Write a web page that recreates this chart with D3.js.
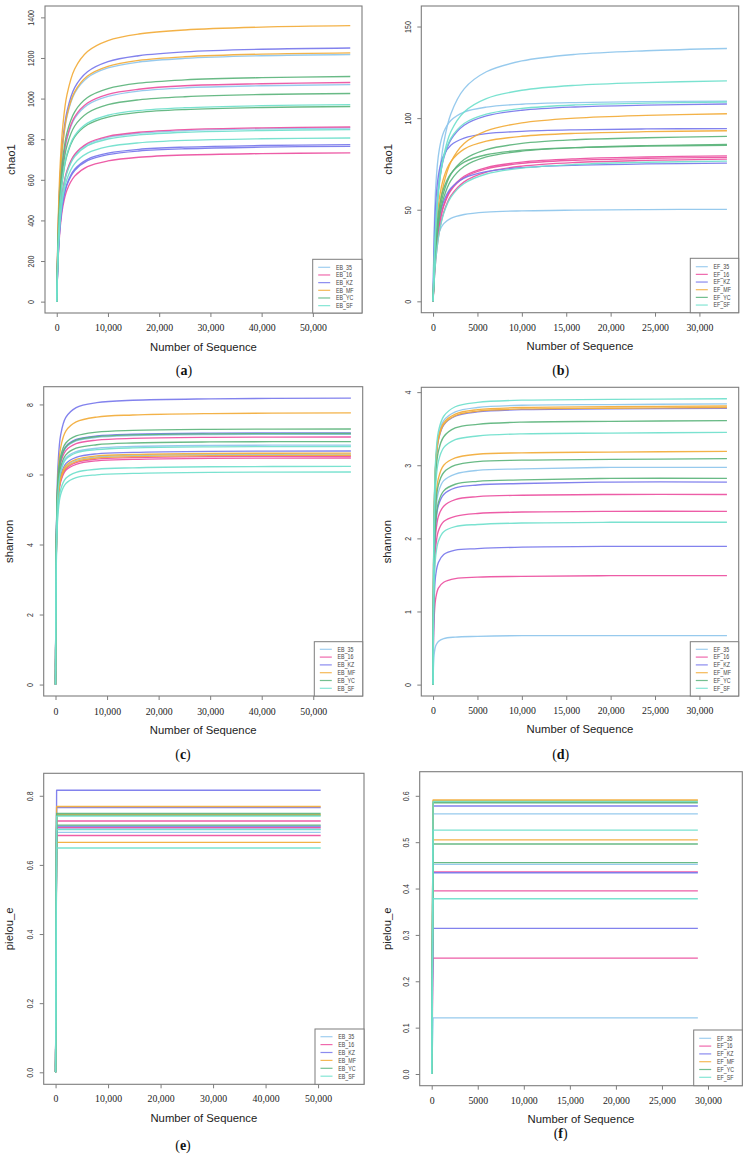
<!DOCTYPE html>
<html><head><meta charset="utf-8">
<script src="https://cdn.jsdelivr.net/npm/d3@7"></script>
<style>
html,body{margin:0;padding:0;background:#fff;}
svg{display:block;}
</style></head>
<body>
<svg id="chart" width="746" height="1155"></svg>
<script>
// ---------------- DATA ----------------
const groupKeys = ["35","16","KZ","MF","YC","SF"];
const legendEB = ["EB_35","EB_16","EB_KZ","EB_MF","EB_YC","EB_SF"];
const legendEF = ["EF_35","EF_16","EF_KZ","EF_MF","EF_YC","EF_SF"];

const xTicksEB = [0,10000,20000,30000,40000,50000];
const xTickLabelsEB = ["0","10,000","20,000","30,000","40,000","50,000"];
const xTicksEF = [0,5000,10000,15000,20000,25000,30000];
const xTickLabelsEF = ["0","5000","10,000","15,000","20,000","25,000","30,000"];

const yTicksChaoEB = [0,200,400,600,800,1000,1200,1400];
const yTicksChaoEF = [0,50,100,150];
const yTicksShanEB = [0,2,4,6,8];
const yTicksShanEF = [0,1,2,3,4];
const yTicksPielouEB = [0,0.2,0.4,0.6,0.8];
const yTickLabelsPielouEB = ["0.0","0.2","0.4","0.6","0.8"];
const yTicksPielouEF = [0,0.1,0.2,0.3,0.4,0.5,0.6];
const yTickLabelsPielouEF = ["0.0","0.1","0.2","0.3","0.4","0.5","0.6"];

// (a) chao1, EB
const depthChaoEB = [0,300,700,1200,2000,3500,6000,10000,16000,25000,40000,57300];
const chaoEBGroup = ["MF","KZ","MF","35","YC","16","35","YC","SF","YC","16","35","SF","SF","KZ","KZ","16"];
const chaoEB = [
 [0,413,688,869,1019,1146,1232,1286,1318,1338,1352,1359],
 [0,379,632,799,937,1054,1132,1182,1211,1230,1243,1249],
 [0,372,620,783,919,1033,1111,1159,1188,1206,1219,1225],
 [0,370,616,778,913,1027,1103,1151,1180,1198,1211,1217],
 [0,337,561,709,832,935,1005,1049,1076,1092,1103,1109],
 [0,328,546,690,809,910,978,1021,1046,1063,1073,1079],
 [0,325,541,683,802,902,969,1011,1037,1053,1063,1069],
 [0,311,519,655,769,865,929,970,994,1009,1020,1025],
 [0,295,491,620,727,818,879,918,941,955,965,970],
 [0,292,486,614,721,811,871,909,932,946,956,961],
 [0,261,435,550,645,725,780,814,834,847,856,860],
 [0,260,433,547,641,721,775,809,829,842,851,855],
 [0,257,429,542,635,714,768,801,821,834,843,847],
 [0,245,408,515,604,680,731,763,782,794,802,806],
 [0,235,391,494,580,652,701,731,750,761,769,773],
 [0,232,387,489,574,645,694,724,742,753,761,765],
 [0,223,371,469,550,618,665,693,711,722,729,733]
];

// (b) chao1, EF
const depthChaoEF = [0,300,700,1200,2000,3500,6000,10000,16000,24000,33100];
const chaoEFGroup = ["35","SF","35","SF","KZ","MF","KZ","MF","YC","YC","YC","16","16","16","SF","KZ","35"];
const chaoEF = [
 [0,40.0,67.7,86.4,102.3,116.0,125.3,131.2,134.8,136.8,138.0],
 [0,38.7,63.6,79.6,92.6,103.4,110.7,115.2,117.9,119.4,120.3],
 [0,62.3,82.8,92.4,98.7,103.3,106.0,107.6,108.5,109.0,109.3],
 [0,42.5,65.5,78.8,89.0,97.1,102.2,105.3,107.2,108.2,108.8],
 [0,42.0,64.8,78.0,88.1,96.1,101.2,104.3,106.1,107.1,107.7],
 [0,29.6,50.2,64.1,75.9,86.1,93.0,97.4,100.0,101.5,102.4],
 [0,53.8,71.5,79.7,85.2,89.1,91.5,92.8,93.6,94.1,94.3],
 [0,36.3,56.0,67.5,76.2,83.1,87.4,90.1,91.7,92.6,93.1],
 [0,29.0,47.6,59.5,69.3,77.4,82.8,86.2,88.2,89.3,90.0],
 [0,27.6,45.3,56.6,65.9,73.6,78.8,82.0,83.9,85.0,85.6],
 [0,33.2,51.3,61.7,69.7,76.0,80.0,82.5,83.9,84.7,85.2],
 [0,25.6,42.0,52.5,61.1,68.3,73.0,76.0,77.8,78.8,79.4],
 [0,25.3,41.6,52.0,60.5,67.6,72.3,75.3,77.0,78.0,78.6],
 [0,22.5,38.1,48.6,57.5,65.2,70.5,73.8,75.8,76.9,77.6],
 [0,22.1,37.5,47.9,56.7,64.3,69.5,72.7,74.7,75.9,76.5],
 [0,29.4,45.4,54.6,61.7,67.3,70.8,73.0,74.3,75.0,75.4],
 [0,28.6,38.0,42.4,45.3,47.4,48.7,49.4,49.8,50.1,50.2]
];

// (c) shannon, EB
const depthShanEB = [0,100,250,500,1000,2000,4000,8000,15000,30000,57300];
const shanEBGroup = ["KZ","MF","YC","KZ","YC","35","16","YC","35","SF","KZ","MF","35","MF","16","16","SF","SF"];
const shanEB = [
 [0,3.28,5.13,6.31,7.13,7.63,7.91,8.05,8.12,8.16,8.18],
 [0,3.11,4.86,5.98,6.77,7.24,7.50,7.64,7.70,7.74,7.76],
 [0,3.33,4.94,5.90,6.53,6.90,7.10,7.21,7.26,7.29,7.30],
 [0,3.28,4.87,5.81,6.43,6.80,7.00,7.10,7.15,7.18,7.19],
 [0,3.27,4.85,5.79,6.42,6.78,6.98,7.08,7.13,7.16,7.17],
 [0,3.26,4.84,5.78,6.40,6.76,6.96,7.06,7.11,7.14,7.15],
 [0,3.22,4.79,5.71,6.33,6.68,6.88,6.98,7.03,7.06,7.07],
 [0,3.16,4.70,5.61,6.21,6.56,6.75,6.85,6.90,6.93,6.94],
 [0,3.12,4.63,5.53,6.12,6.47,6.65,6.75,6.80,6.83,6.84],
 [0,3.10,4.60,5.50,6.08,6.43,6.62,6.71,6.76,6.79,6.80],
 [0,3.04,4.52,5.39,5.97,6.31,6.49,6.59,6.63,6.66,6.67],
 [0,3.01,4.48,5.34,5.91,6.25,6.43,6.53,6.57,6.60,6.61],
 [0,3.00,4.46,5.32,5.89,6.22,6.40,6.50,6.54,6.57,6.58],
 [0,2.98,4.44,5.29,5.86,6.19,6.37,6.47,6.51,6.54,6.55],
 [0,2.97,4.41,5.27,5.83,6.16,6.34,6.44,6.48,6.51,6.52],
 [0,2.95,4.38,5.23,5.79,6.12,6.29,6.39,6.43,6.46,6.47],
 [0,2.84,4.22,5.04,5.57,5.89,6.06,6.15,6.19,6.22,6.23],
 [0,2.76,4.11,4.91,5.43,5.74,5.91,5.99,6.03,6.06,6.07]
];

// (d) shannon, EF
const depthShanEF = [0,60,150,300,600,1200,2500,5000,10000,20000,33100];
const shanEFGroup = ["SF","35","MF","MF","KZ","YC","SF","MF","YC","35","YC","KZ","16","16","SF","KZ","16","35"];
const shanEF = [
 [0,1.68,2.56,3.09,3.46,3.67,3.80,3.86,3.89,3.90,3.91],
 [0,1.65,2.51,3.04,3.40,3.61,3.73,3.79,3.82,3.83,3.84],
 [0,1.64,2.49,3.02,3.37,3.58,3.70,3.76,3.79,3.80,3.81],
 [0,1.63,2.48,3.00,3.35,3.56,3.68,3.74,3.77,3.78,3.79],
 [0,1.62,2.47,2.99,3.34,3.55,3.67,3.73,3.76,3.77,3.78],
 [0,1.55,2.36,2.86,3.19,3.39,3.51,3.56,3.59,3.60,3.61],
 [0,1.48,2.26,2.73,3.05,3.24,3.35,3.40,3.43,3.44,3.45],
 [0,1.37,2.09,2.52,2.82,3.00,3.10,3.15,3.17,3.18,3.19],
 [0,1.33,2.02,2.45,2.73,2.90,3.00,3.05,3.07,3.08,3.09],
 [0,1.28,1.94,2.35,2.63,2.79,2.88,2.93,2.95,2.97,2.97],
 [0,1.21,1.84,2.23,2.49,2.65,2.74,2.78,2.80,2.82,2.82],
 [0,1.19,1.81,2.19,2.45,2.60,2.69,2.73,2.75,2.77,2.77],
 [0,1.12,1.70,2.06,2.30,2.44,2.53,2.57,2.59,2.60,2.60],
 [0,1.02,1.55,1.88,2.10,2.23,2.30,2.34,2.36,2.37,2.37],
 [0,0.95,1.45,1.76,1.96,2.09,2.16,2.19,2.21,2.22,2.22],
 [0,0.81,1.24,1.50,1.67,1.78,1.84,1.86,1.88,1.89,1.89],
 [0,0.64,0.97,1.18,1.32,1.40,1.45,1.47,1.48,1.49,1.49],
 [0,0.29,0.44,0.53,0.59,0.63,0.65,0.66,0.67,0.67,0.67]
];

// (e) pielou_e, EB
const depthPielouEB = [0,200,50500];
const pielouEBGroup = ["35","35","35","16","16","16","KZ","KZ","KZ","MF","MF","MF","YC","YC","YC","SF","SF","SF"];
const pielouEB = [
 [0,0.710,0.710],[0,0.704,0.704],[0,0.694,0.694],
 [0,0.727,0.727],[0,0.708,0.708],[0,0.685,0.685],
 [0,0.816,0.816],[0,0.766,0.766],[0,0.712,0.712],
 [0,0.769,0.769],[0,0.745,0.745],[0,0.665,0.665],
 [0,0.749,0.749],[0,0.744,0.744],[0,0.715,0.715],
 [0,0.741,0.741],[0,0.702,0.702],[0,0.649,0.649]
];

// (f) pielou_e, EF
const depthPielouEF = [0,150,28900];
const pielouEFGroup = ["35","35","35","16","16","16","KZ","KZ","KZ","MF","MF","MF","YC","YC","YC","SF","SF","SF"];
const pielouEF = [
 [0,0.561,0.561],[0,0.452,0.452],[0,0.121,0.121],
 [0,0.436,0.436],[0,0.395,0.395],[0,0.250,0.250],
 [0,0.578,0.578],[0,0.434,0.434],[0,0.314,0.314],
 [0,0.591,0.591],[0,0.589,0.589],[0,0.505,0.505],
 [0,0.585,0.585],[0,0.496,0.496],[0,0.456,0.456],
 [0,0.588,0.588],[0,0.526,0.526],[0,0.378,0.378]
];

// ---------------- STYLE ----------------
const groupColors = ["#8ec5ec","#ec4f9f","#7777ec","#f2ab38","#5cb47c","#6fe0cc"];
const color = d3.scaleOrdinal().domain(groupKeys).range(groupColors);
const boxColor = "#7d7d7d";

const svg = d3.select("#chart");

function drawPanel(cfg){
  const g = svg.append("g");
  const x = d3.scaleLinear().domain(cfg.xDomain).range([cfg.left, cfg.right]);
  const y = d3.scaleLinear().domain(cfg.yDomain).range([cfg.bottom, cfg.top]);

  // curves
  const line = d3.line().x((d)=>x(d[0])).y((d)=>y(d[1])).curve(cfg.curve);
  const order = cfg.series.map((s,i)=>i).sort((a,b)=>groupKeys.indexOf(cfg.groups[a]) - groupKeys.indexOf(cfg.groups[b]) || a-b);
  const cg = g.append("g");
  order.forEach(i=>{
    const pts = cfg.depths.map((dep,j)=>[dep, cfg.series[i][j]]);
    cg.append("path").attr("d", line(pts))
      .attr("fill","none").attr("stroke", color(cfg.groups[i]))
      .attr("stroke-width",1.35).attr("stroke-opacity",0.92)
      .attr("stroke-linejoin","round");
  });

  // box
  g.append("rect").attr("x",cfg.left).attr("y",cfg.top)
    .attr("width",cfg.right-cfg.left).attr("height",cfg.bottom-cfg.top)
    .attr("fill","none").attr("stroke",boxColor).attr("stroke-width",1.1);

  // x axis
  const xa = d3.axisBottom(x).tickValues(cfg.xTicks)
    .tickFormat((d,i)=>cfg.xTickLabels[i]).tickSize(4).tickSizeOuter(0);
  const gx = g.append("g").attr("transform",`translate(0,${cfg.bottom})`).call(xa);
  gx.select(".domain").remove();
  gx.selectAll(".tick line").attr("stroke",boxColor);
  gx.selectAll(".tick text").attr("y",cfg.xLabOff).attr("dy","0.35em")
    .attr("fill","#222").style("font-family","'Liberation Serif','Times New Roman',serif")
    .style("font-size","9.8px");

  // y axis
  const ya = d3.axisLeft(y).tickValues(cfg.yTicks)
    .tickFormat((d,i)=>cfg.yTickLabels ? cfg.yTickLabels[i] : String(d)).tickSize(4).tickSizeOuter(0);
  const gy = g.append("g").attr("transform",`translate(${cfg.left},0)`).call(ya);
  gy.select(".domain").remove();
  gy.selectAll(".tick line").attr("stroke",boxColor);
  gy.selectAll(".tick text").attr("x",0).attr("y",0).attr("dy","0.35em")
    .attr("text-anchor","middle")
    .attr("transform","translate(-13.6,0) rotate(-90) scale(0.82,1)")
    .attr("fill","#333").style("font-family","'Liberation Sans',Arial,sans-serif")
    .style("font-size","8.6px");

  // axis titles
  g.append("text").attr("x",(cfg.left+cfg.right)/2).attr("y",cfg.xTitleY)
    .attr("text-anchor","middle").attr("dy","0.35em")
    .style("font-family","'Liberation Sans',Arial,sans-serif").style("font-size","11.3px")
    .attr("fill","#222").text("Number of Sequence");
  g.append("text").attr("transform",`translate(${cfg.yTitleX},${(cfg.top+cfg.bottom)/2}) rotate(-90)`)
    .attr("text-anchor","middle").attr("dy","0.35em")
    .style("font-family","'Liberation Sans',Arial,sans-serif").style("font-size","11.3px")
    .attr("fill","#222").text(cfg.yTitle);

  // caption
  const cap = g.append("text").attr("x",cfg.capX).attr("y",cfg.capY).attr("dy","0.35em")
    .attr("text-anchor","middle")
    .style("font-family","'Liberation Serif','Times New Roman',serif").style("font-size","14px")
    .attr("fill","#111");
  cap.append("tspan").text("(");
  cap.append("tspan").attr("font-weight","bold").text(cfg.caption);
  cap.append("tspan").text(")");

  // legend
  const lg = g.append("g");
  lg.append("rect").attr("x",cfg.legLeft).attr("y",cfg.legTop)
    .attr("width",cfg.right-cfg.legLeft).attr("height",cfg.bottom-cfg.legTop)
    .attr("fill","#fff").attr("stroke",boxColor).attr("stroke-width",1);
  cfg.legend.forEach((lab,i)=>{
    const yy = cfg.legTop + cfg.legFirst + i*cfg.legStep;
    lg.append("line").attr("x1",cfg.legLeft+5.5).attr("x2",cfg.legLeft+17.5)
      .attr("y1",yy).attr("y2",yy).attr("stroke",color(groupKeys[i])).attr("stroke-width",1.2)
      .attr("stroke-opacity",0.85);
    lg.append("text").attr("transform",`translate(${cfg.legLeft+23.3},${yy}) scale(0.8,1)`)
      .attr("dy","0.35em")
      .style("font-family","'Liberation Sans',Arial,sans-serif").style("font-size","6.6px")
      .attr("fill","#444").text(lab);
  });
}

const smooth = d3.curveCatmullRom.alpha(0.5);

drawPanel({left:45,right:362,top:6,bottom:313,xDomain:[-2292,59592],yDomain:[-56,1456],
  depths:depthChaoEB,series:chaoEB,groups:chaoEBGroup,curve:smooth,
  xTicks:xTicksEB,xTickLabels:xTickLabelsEB,yTicks:yTicksChaoEB,
  xLabOff:14.7,xTitleY:347,yTitleX:11,yTitle:"chao1",caption:"a",capX:184,capY:370,
  legend:legendEB,legLeft:312.7,legTop:259.3,legFirst:8,legStep:7.67});

drawPanel({left:421.3,right:738.7,top:6,bottom:312.7,xDomain:[-1324,34424],yDomain:[-6.2,161.2],
  depths:depthChaoEF,series:chaoEF,groups:chaoEFGroup,curve:smooth,
  xTicks:xTicksEF,xTickLabels:xTickLabelsEF,yTicks:yTicksChaoEF,
  xLabOff:15,xTitleY:345.7,yTitleX:388,yTitle:"chao1",caption:"b",capX:560.7,capY:370,
  legend:legendEF,legLeft:690.3,legTop:258.3,legFirst:8.4,legStep:7.67});

drawPanel({left:43.7,right:362.7,top:386.7,bottom:696,xDomain:[-2292,59592],yDomain:[-0.327,8.507],
  depths:depthShanEB,series:shanEB,groups:shanEBGroup,curve:smooth,
  xTicks:xTicksEB,xTickLabels:xTickLabelsEB,yTicks:yTicksShanEB,
  xLabOff:15.7,xTitleY:730,yTitleX:9.3,yTitle:"shannon",caption:"c",capX:183,capY:754,
  legend:legendEB,legLeft:314.3,legTop:641.7,legFirst:7.6,legStep:7.8});

drawPanel({left:421.3,right:738.7,top:387.3,bottom:696,xDomain:[-1324,34424],yDomain:[-0.156,4.066],
  depths:depthShanEF,series:shanEF,groups:shanEFGroup,curve:smooth,
  xTicks:xTicksEF,xTickLabels:xTickLabelsEF,yTicks:yTicksShanEF,
  xLabOff:15,xTitleY:729.3,yTitleX:387,yTitle:"shannon",caption:"d",capX:560.7,capY:754,
  legend:legendEF,legLeft:690.3,legTop:641.7,legFirst:7.6,legStep:7.8});

drawPanel({left:43.7,right:364,top:773.3,bottom:1084.3,xDomain:[-2260,58750],yDomain:[-0.0347,0.865],
  depths:depthPielouEB,series:pielouEB,groups:pielouEBGroup,curve:d3.curveLinear,
  xTicks:xTicksEB,xTickLabels:xTickLabelsEB,yTicks:yTicksPielouEB,yTickLabels:yTickLabelsPielouEB,
  xLabOff:14.7,xTitleY:1117.7,yTitleX:9.3,yTitle:"pielou_e",caption:"e",capX:183,capY:1145,
  legend:legendEB,legLeft:315,legTop:1029,legFirst:7.7,legStep:7.9});

drawPanel({left:419.7,right:742.3,top:771.7,bottom:1085.7,xDomain:[-1303,33725],yDomain:[-0.0252,0.652],
  depths:depthPielouEF,series:pielouEF,groups:pielouEFGroup,curve:d3.curveLinear,
  xTicks:xTicksEF,xTickLabels:xTickLabelsEF,yTicks:yTicksPielouEF,yTickLabels:yTickLabelsPielouEF,
  xLabOff:15,xTitleY:1119,yTitleX:387,yTitle:"pielou_e",caption:"f",capX:560.7,capY:1133,
  legend:legendEF,legLeft:693.7,legTop:1030,legFirst:8.3,legStep:7.8});
</script>
</body></html>
